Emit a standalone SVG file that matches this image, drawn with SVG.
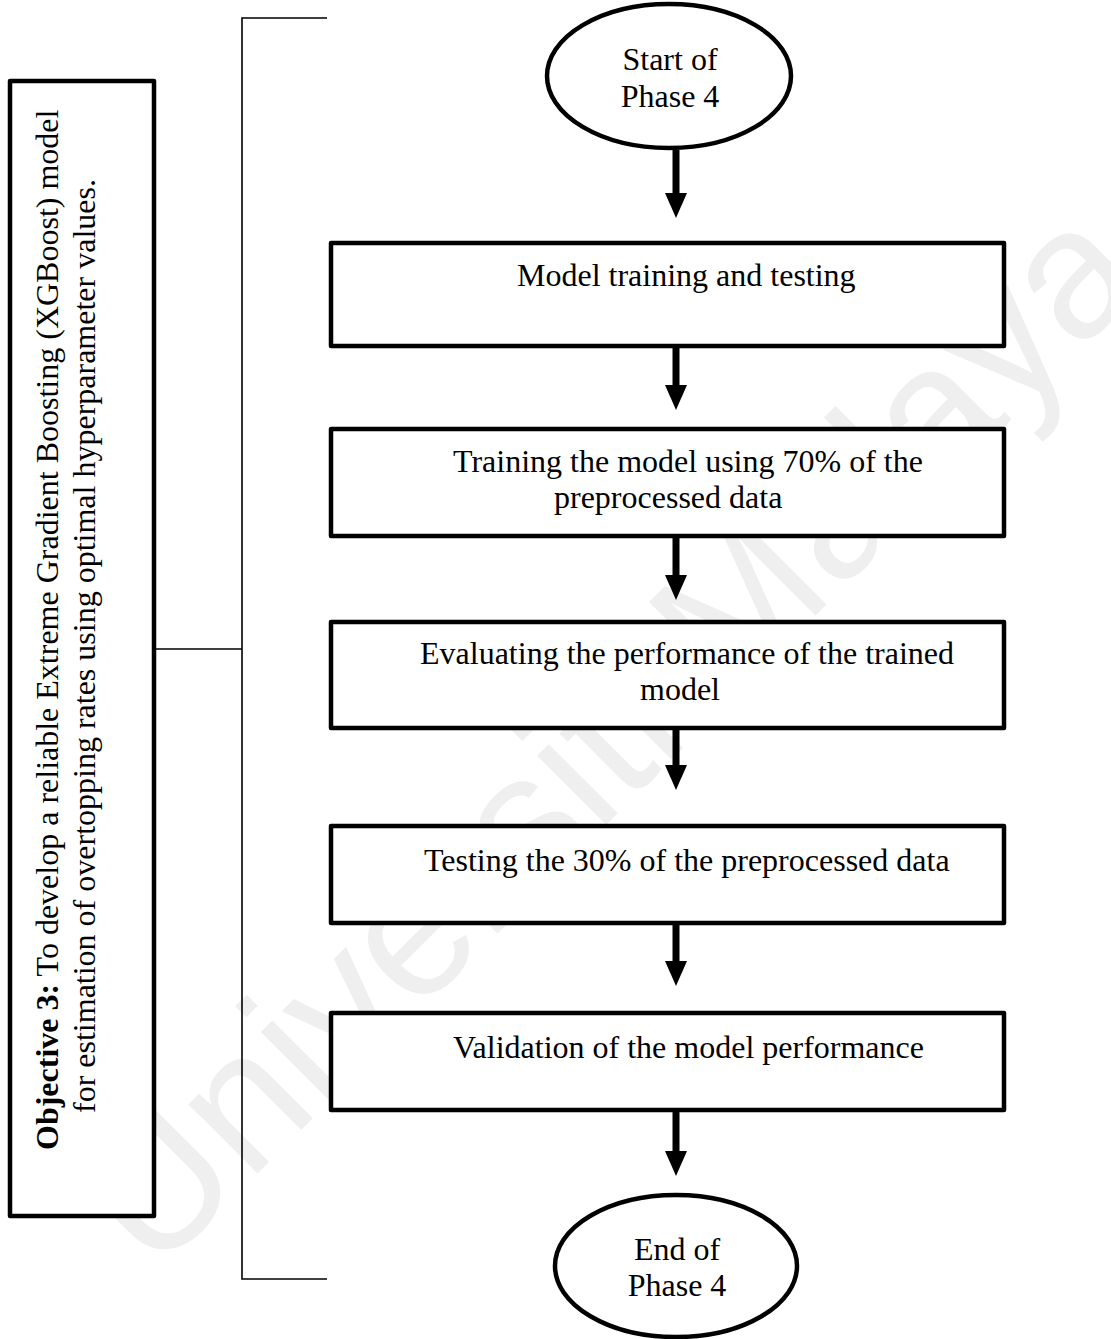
<svg xmlns="http://www.w3.org/2000/svg" width="1111" height="1339" viewBox="0 0 1111 1339">
  <style>
    .t { font-family: "Liberation Serif", "Times New Roman", serif; font-size: 32px; fill: #000; }
    .b { font-weight: bold; }
    .box { fill: #fff; stroke: #000; stroke-width: 4.5; stroke-linejoin: round; }
    .thin { fill: none; stroke: #000; stroke-width: 1.6; }
    .shaft { stroke: #000; stroke-width: 7; }
    .head { fill: #000; }
    .wm { font-family: "Liberation Sans", Arial, sans-serif; font-size: 185px; fill: #efefef; }
  </style>

  <rect width="1111" height="1339" fill="#fff"/>

  <!-- faint background lettering -->
  <g id="watermark">
    <text class="wm" text-anchor="middle" transform="translate(652,779) rotate(-45)">Universiti Malaya</text>
  </g>

  <!-- objective panel with bracket -->
  <g id="objective">
    <rect class="box" x="10" y="81" width="144" height="1135"/>
    <text class="t" transform="translate(58,1150) rotate(-90)"><tspan class="b">Objective 3:</tspan> To develop a reliable Extreme Gradient Boosting (XGBoost) model</text>
    <text class="t" transform="translate(95,1113) rotate(-90)">for estimation of overtopping rates using optimal hyperparameter values.</text>
  </g>
  <g id="bracket">
    <path class="thin" d="M327,18 H242 V1279 H327"/>
    <path class="thin" d="M154,649 H242"/>
  </g>

  <!-- flow nodes -->
  <g id="start">
    <ellipse cx="669" cy="76" rx="122" ry="72" fill="#fff" stroke="#000" stroke-width="4.5"/>
    <text class="t" x="670" y="70" text-anchor="middle">Start of</text>
    <text class="t" x="670" y="107" text-anchor="middle">Phase 4</text>
  </g>
  <g id="step1">
    <rect class="box" x="331" y="243" width="673" height="103"/>
    <text class="t" x="517" y="286">Model training and testing</text>
  </g>
  <g id="step2">
    <rect class="box" x="331" y="429" width="673" height="107"/>
    <text class="t" x="453" y="472">Training the model using 70% of the</text>
    <text class="t" x="554" y="508">preprocessed data</text>
  </g>
  <g id="step3">
    <rect class="box" x="331" y="622" width="673" height="106"/>
    <text class="t" x="420" y="664">Evaluating the performance of the trained</text>
    <text class="t" x="640" y="700">model</text>
  </g>
  <g id="step4">
    <rect class="box" x="331" y="826" width="673" height="97"/>
    <text class="t" x="424" y="871">Testing the 30% of the preprocessed data</text>
  </g>
  <g id="step5">
    <rect class="box" x="331" y="1013" width="673" height="97"/>
    <text class="t" x="453" y="1058">Validation of the model performance</text>
  </g>
  <g id="end">
    <ellipse cx="676" cy="1266" rx="121" ry="71" fill="#fff" stroke="#000" stroke-width="4.5"/>
    <text class="t" x="677" y="1260" text-anchor="middle">End of</text>
    <text class="t" x="677" y="1296" text-anchor="middle">Phase 4</text>
  </g>

  <!-- connectors: shaft plus solid head, tip at the lower end -->
  <g id="connectors">
    <line class="shaft" x1="676" y1="150" x2="676" y2="195"/>
    <path class="head" d="M665,193 H687 L676,218 Z"/>
    <line class="shaft" x1="676" y1="346" x2="676" y2="387"/>
    <path class="head" d="M665,385 H687 L676,410 Z"/>
    <line class="shaft" x1="676" y1="536" x2="676" y2="577"/>
    <path class="head" d="M665,575 H687 L676,600 Z"/>
    <line class="shaft" x1="676" y1="728" x2="676" y2="767"/>
    <path class="head" d="M665,765 H687 L676,790 Z"/>
    <line class="shaft" x1="676" y1="923" x2="676" y2="963"/>
    <path class="head" d="M665,961 H687 L676,986 Z"/>
    <line class="shaft" x1="676" y1="1110" x2="676" y2="1153"/>
    <path class="head" d="M665,1151 H687 L676,1176 Z"/>
  </g>
</svg>
